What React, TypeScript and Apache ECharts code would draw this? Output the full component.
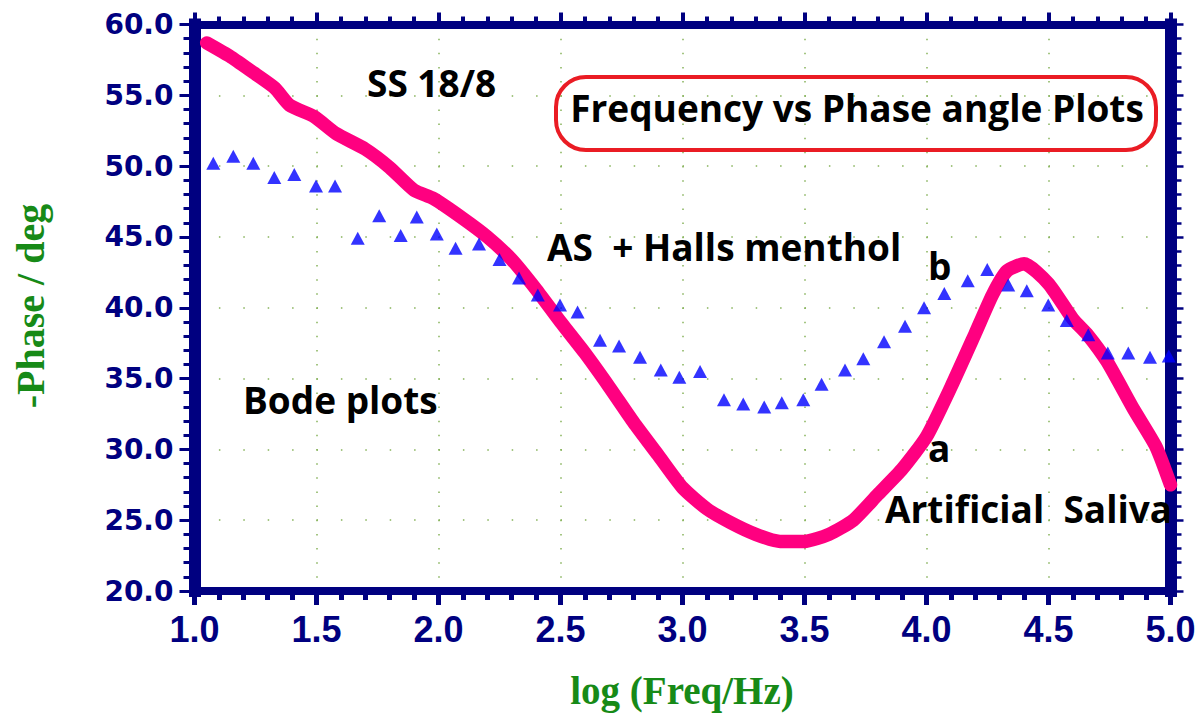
import React, { useEffect, useRef } from "react";
import * as echarts from "echarts";

// Curve a: Artificial Saliva (log f, -phase)
const curveAX = [1.05, 1.15, 1.25, 1.33, 1.39, 1.49, 1.58, 1.7, 1.8, 1.9, 1.98, 2.1, 2.2, 2.3, 2.4, 2.5, 2.6, 2.7, 2.8, 2.9, 3.0, 3.1, 3.2, 3.3, 3.4, 3.5, 3.6, 3.7, 3.8, 3.9, 4.0, 4.1, 4.2, 4.27, 4.33, 4.4, 4.5, 4.6, 4.66, 4.74, 4.85, 4.94, 5.0];
const curveAY = [58.7, 57.7, 56.5, 55.5, 54.3, 53.5, 52.3, 51.2, 49.9, 48.3, 47.7, 46.3, 45.0, 43.4, 41.3, 39.0, 36.8, 34.4, 31.9, 29.6, 27.3, 25.8, 24.8, 24.0, 23.5, 23.5, 24.0, 25.0, 26.8, 28.6, 30.9, 34.4, 38.2, 40.9, 42.6, 43.1, 41.7, 39.2, 38.1, 36.2, 32.8, 30.2, 27.5];

// Curve b: AS + Halls menthol
const curveBX = [1.077, 1.159, 1.241, 1.327, 1.409, 1.498, 1.576, 1.669, 1.757, 1.845, 1.911, 1.993, 2.07, 2.166, 2.25, 2.33, 2.407, 2.498, 2.57, 2.662, 2.74, 2.826, 2.911, 2.987, 3.072, 3.17, 3.249, 3.335, 3.407, 3.495, 3.57, 3.666, 3.741, 3.826, 3.912, 3.99, 4.073, 4.169, 4.249, 4.335, 4.411, 4.499, 4.575, 4.663, 4.743, 4.827, 4.916, 4.993];
const curveBY = [50.2, 50.7, 50.2, 49.2, 49.4, 48.6, 48.6, 44.9, 46.5, 45.1, 46.4, 45.2, 44.2, 44.5, 43.4, 42.1, 40.9, 40.2, 39.7, 37.7, 37.3, 36.5, 35.6, 35.1, 35.5, 33.5, 33.2, 33.0, 33.3, 33.5, 34.6, 35.6, 36.4, 37.6, 38.7, 40.0, 41.0, 41.9, 42.7, 41.6, 41.2, 40.2, 39.1, 38.1, 36.8, 36.8, 36.5, 36.6];

const xMin = 1.0, xMax = 5.0, xStep = 0.5;
const yMin = 20, yMax = 60, yStep = 5;

const NAVY = "#000080";
const GRID_GREEN = "#86b25a";
const TXT_FONT = "bold 37px 'Open Sans', sans-serif";

export default function App() {
  const ref = useRef<HTMLDivElement>(null);
  useEffect(() => {
    if (!ref.current) return;
    const chart = echarts.init(ref.current, null, { renderer: "svg" });
    const dataA = curveAX.map((x, i) => [x, curveAY[i]]);
    const dataB = curveBX.map((x, i) => [x, curveBY[i]]);
    const fmt = (v: number) => v.toFixed(1);
    const text = (t: string, x: number, y: number, align = "left", extra: any = {}) => ({
      type: "text",
      x,
      y,
      z: 100,
      style: { text: t, fill: "#000", font: TXT_FONT, textAlign: align, textVerticalAlign: "middle" },
      ...extra,
    });
    chart.setOption({
      animation: false,
      backgroundColor: "#fff",
      grid: { left: 194.5, right: 33.5, top: 24.5, bottom: 124 },
      xAxis: [
        {
          type: "value", min: xMin, max: xMax, interval: xStep, position: "bottom",
          axisLine: { show: true, lineStyle: { color: NAVY, width: 8, cap: "square" } },
          axisTick: { show: true, inside: false, length: 14, lineStyle: { color: NAVY, width: 5 } },
          minorTick: { show: true, splitNumber: 5, length: 9, lineStyle: { color: NAVY, width: 5 } },
          axisLabel: { formatter: fmt, color: NAVY, fontSize: 36, fontWeight: "bold", fontFamily: "'Liberation Sans', Arial, sans-serif", margin: 20 },
          splitLine: { show: true, lineStyle: { color: GRID_GREEN, width: 1.5, type: [1.5, 12.65] } },
          minorSplitLine: { show: false },
        },
        {
          type: "value", min: xMin, max: xMax, interval: xStep, position: "top",
          axisLine: { show: true, lineStyle: { color: NAVY, width: 8, cap: "square" } },
          axisTick: { show: true, inside: false, length: 12, lineStyle: { color: NAVY, width: 4 } },
          minorTick: { show: true, splitNumber: 5, length: 8, lineStyle: { color: NAVY, width: 4 } },
          axisLabel: { show: false },
          splitLine: { show: false },
        },
      ],
      yAxis: [
        {
          type: "value", min: yMin, max: yMax, interval: yStep, position: "left",
          axisLine: { show: true, lineStyle: { color: NAVY, width: 12, cap: "square" } },
          axisTick: { show: true, inside: false, length: 15, lineStyle: { color: NAVY, width: 3 } },
          minorTick: { show: true, splitNumber: 5, length: 11, lineStyle: { color: NAVY, width: 3 } },
          axisLabel: { formatter: fmt, color: NAVY, fontSize: 28, fontWeight: "bold", fontFamily: "'DejaVu Sans', sans-serif", margin: 21 },
          splitLine: { show: true, lineStyle: { color: GRID_GREEN, width: 1.5, type: [1.5, 22.9] } },
        },
        {
          type: "value", min: yMin, max: yMax, interval: yStep, position: "right",
          axisLine: { show: true, lineStyle: { color: NAVY, width: 12, cap: "square" } },
          axisTick: { show: true, inside: false, length: 13, lineStyle: { color: NAVY, width: 2.5 } },
          minorTick: { show: true, splitNumber: 5, length: 11, lineStyle: { color: NAVY, width: 2.5 } },
          axisLabel: { show: false },
          splitLine: { show: false },
        },
      ],
      series: [
        {
          name: "Artificial Saliva", type: "line", xAxisIndex: 0, yAxisIndex: 0, data: dataA,
          showSymbol: false, smooth: 0.2, z: 3,
          lineStyle: { color: "#ff0080", width: 13.5, cap: "round", join: "round" },
        },
        {
          name: "AS + Halls menthol", type: "scatter", xAxisIndex: 0, yAxisIndex: 0, data: dataB,
          symbol: "triangle", symbolSize: [14, 13], z: 4,
          itemStyle: { color: "#0000ff" },
        },
      ],
      graphic: [
        {
          type: "rect", z: 99,
          shape: { x: 556, y: 77, width: 600, height: 73, r: 30 },
          style: { fill: "none", stroke: "#ea1c24", lineWidth: 4 },
        },
        text("Frequency vs Phase angle Plots", 857, 107, "center"),
        text("SS 18/8", 367, 82),
        text("AS  + Halls menthol", 547, 246),
        text("b", 928, 265),
        text("a", 928, 447),
        text("Artificial  Saliva", 885, 508),
        text("Bode plots", 243, 399),
        {
          type: "text", x: 682, y: 690, z: 100,
          style: { text: "log (Freq/Hz)", fill: "#178a17", font: "bold 39px 'Liberation Serif', 'Times New Roman', serif", textAlign: "center", textVerticalAlign: "middle" },
        },
        {
          type: "text", x: 30, y: 306, z: 100, rotation: Math.PI / 2,
          style: { text: "-Phase / deg", fill: "#178a17", font: "bold 40px 'Liberation Serif', 'Times New Roman', serif", textAlign: "center", textVerticalAlign: "middle" },
        },
      ],
    });
    return () => chart.dispose();
  }, []);
  return <div ref={ref} style={{ position: "absolute", left: 0, top: 0, width: 1204, height: 715, background: "#fff" }} />;
}
